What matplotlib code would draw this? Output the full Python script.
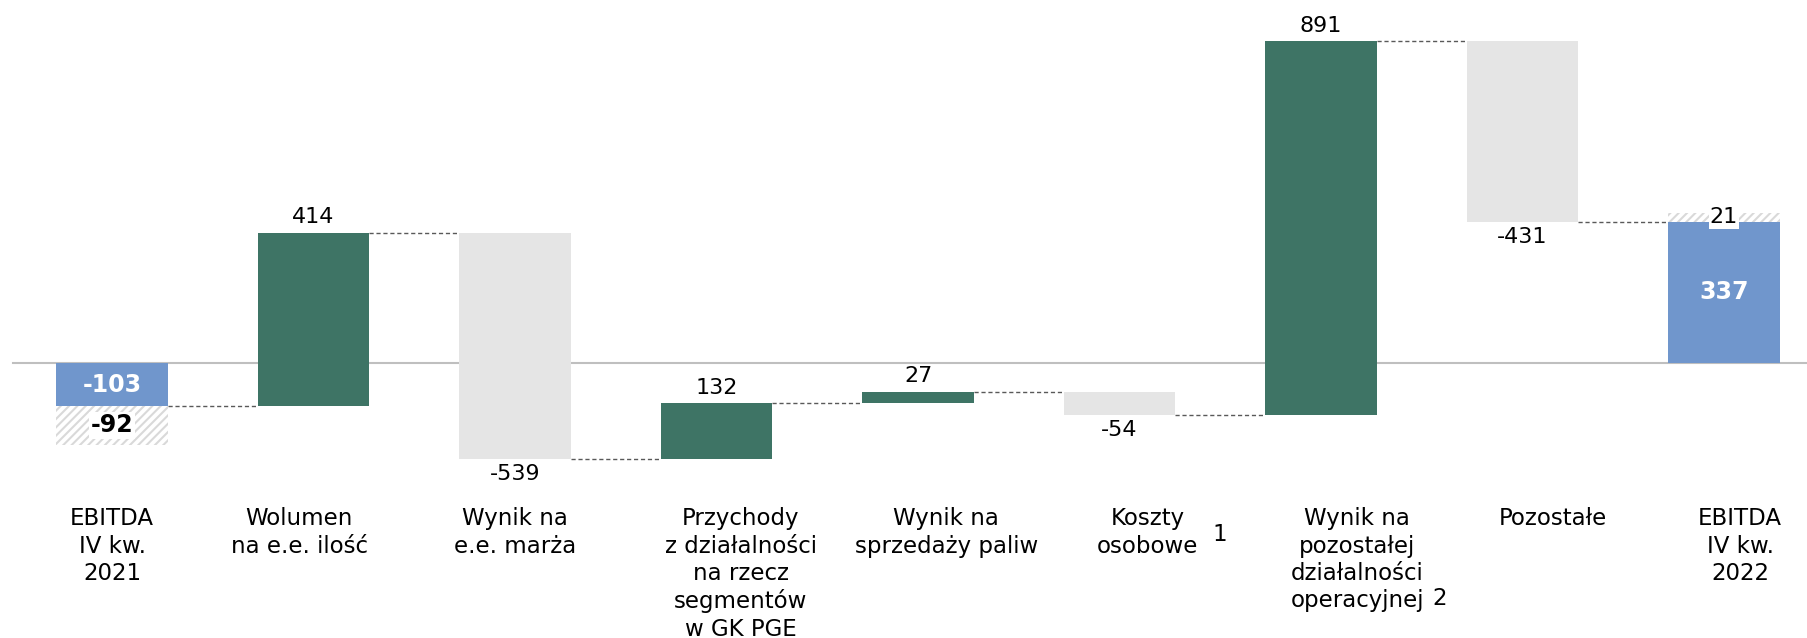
import matplotlib.pyplot as plt
import matplotlib.transforms as mtransforms
import numpy as np

# dane (mln zł)
labels = ['EBITDA\nIV kw.\n2021', 'Wolumen\nna e.e. ilość', 'Wynik na\ne.e. marża',
          'Przychody\nz działalności\nna rzecz\nsegmentów\nw GK PGE',
          'Wynik na\nsprzedaży paliw', 'Koszty\nosobowe',
          'Wynik na\npozostałej\ndziałalności\noperacyjnej', 'Pozostałe',
          'EBITDA\nIV kw.\n2022']
start_val = -103
start_adj = -92
deltas = [414, -539, 132, 27, -54, 891, -431]
end_val = 337
end_adj = 21
footnotes = {5: '1', 6: '2'}

blue = '#7096CC'
green = '#3E7465'
grey = '#E5E5E5'
hatch_c = '#D9D9D9'

plt.rcParams['font.family'] = 'DejaVu Sans'
plt.rcParams['hatch.linewidth'] = 1.5

fig = plt.figure(figsize=(18.08, 6.38), dpi=100)
ax = fig.add_axes([0, 0, 1, 1])
ax.set_xlim(-0.556, 8.417)
ax.set_ylim(-656, 866)
ax.axis('off')

w = 0.555
n = len(labels)
x = np.arange(n)

# oś zerowa
ax.axhline(0, xmin=0.007, xmax=1, color='#BFBFBF', lw=1.5, zorder=1)

# słupek początkowy
ax.bar(x[0], start_val, w, color=blue, zorder=2)
ax.bar(x[0], start_adj, w, bottom=start_val, color='white', edgecolor=hatch_c,
       hatch='////', lw=0, zorder=2)
ax.text(x[0], start_val / 2, str(start_val), ha='center', va='center',
        color='white', fontsize=17, fontweight='bold', zorder=4)
ax.text(x[0], start_val + start_adj / 2, str(start_adj), ha='center', va='center',
        color='black', fontsize=17, fontweight='bold', zorder=4,
        bbox=dict(facecolor='white', edgecolor='none', pad=1))

# zmiany
levels = start_val + np.concatenate([[0], np.cumsum(deltas)])
for i, d in enumerate(deltas):
    xi = x[i + 1]
    base = levels[i]
    col = green if d > 0 else grey
    ax.bar(xi, d, w, bottom=base, color=col, zorder=2)
    if d > 0:
        ax.annotate(str(d), (xi, base + d), xytext=(0, 4), textcoords='offset points',
                    ha='center', va='bottom', fontsize=16)
    else:
        ax.annotate(str(d), (xi, base + d), xytext=(0, -4), textcoords='offset points',
                    ha='center', va='top', fontsize=16)

# słupek końcowy
ax.bar(x[-1], end_val, w, color=blue, zorder=2)
ax.bar(x[-1], end_adj, w, bottom=end_val, color='white', edgecolor=hatch_c,
       hatch='////', lw=0, zorder=2)
ax.text(x[-1], end_val / 2, str(end_val), ha='center', va='center',
        color='white', fontsize=17, fontweight='bold', zorder=4)
ax.text(x[-1], end_val + end_adj / 2, str(end_adj), ha='center', va='center',
        color='black', fontsize=16, zorder=4,
        bbox=dict(facecolor='white', edgecolor='none', pad=1))

# linie łączące
for i in range(n - 1):
    ax.plot([x[i] + w / 2, x[i + 1] - w / 2], [levels[i], levels[i]],
            color='#595959', lw=1, ls=(0, (3, 2)), zorder=1)

# podpisy kategorii
trans = mtransforms.blended_transform_factory(ax.transData, ax.transAxes)
lab_dx = [0, -0.07, 0, 0.12, 0.14, 0.14, 0.18, 0.15, 0.08]
for i, lab in enumerate(labels):
    ax.text(x[i] + lab_dx[i], 0.205, lab, transform=trans, ha='center', va='top',
            fontsize=16.5, linespacing=1.24)

# przypisy
ax.text(x[5] + 0.5, 0.162, footnotes[5], transform=trans, ha='center', va='center', fontsize=16.5)
ax.text(x[6] + 0.59, 0.062, footnotes[6], transform=trans, ha='center', va='center', fontsize=16.5)

fig.savefig('out.png', dpi=100)
